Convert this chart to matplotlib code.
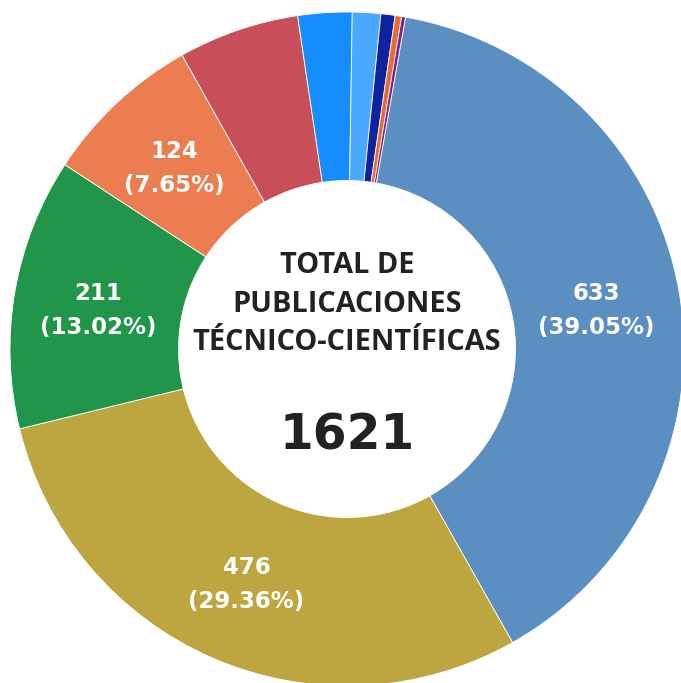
import numpy as np
import matplotlib.pyplot as plt

values = [633, 476, 211, 124, 94, 42, 22, 11, 5, 3]
colors = ['#5B8FC1', '#BDA53F', '#21964A', '#EB7D50', '#C84E59',
          '#168DFF', '#4AA8FF', '#10239E', '#EA6B2D', '#7F1F8F']
show_label = [True, True, True, True, False, False, False, False, False, False]
center_title = 'TOTAL DE\nPUBLICACIONES\nTÉCNICO-CIENTÍFICAS'

total = sum(values)

W, H = 681, 683
fig = plt.figure(figsize=(W / 100, H / 100), dpi=100)
ax = fig.add_axes([0, 0, 1, 1])

R = 337.0
cx, cy = 347.0, 349.0
start = 80  # first slice begins 10 deg right of top, going clockwise

wedges, _ = ax.pie(values, colors=colors, startangle=start, counterclock=False,
                   radius=1.0, wedgeprops=dict(width=0.5, edgecolor='white', linewidth=0.6))

ax.set_xlim(-cx / R, (W - cx) / R)
ax.set_ylim(-(H - cy) / R, cy / R)
ax.set_aspect('auto')
ax.axis('off')

cum = 0
for v, show in zip(values, show_label):
    mid = start - (cum + v / 2) / total * 360
    cum += v
    if not show:
        continue
    a = np.deg2rad(mid)
    ax.text(0.75 * np.cos(a), 0.75 * np.sin(a) - 4 / R,
            f'{v}\n({v / total * 100:.2f}%)', ha='center', va='center',
            color='white', fontsize=16.5, fontweight='bold',
            family='DejaVu Sans', linespacing=1.62)

ax.text(0, (cy - 304) / R, center_title, ha='center', va='center',
        fontsize=20.8, fontweight='bold', family='Open Sans', color='#222222',
        linespacing=1.45)
ax.text(0, (cy - 436) / R, str(total), ha='center', va='center',
        fontsize=35, fontweight='bold', family='DejaVu Sans', color='#222222')

fig.savefig('out.png', dpi=100, facecolor='white')
